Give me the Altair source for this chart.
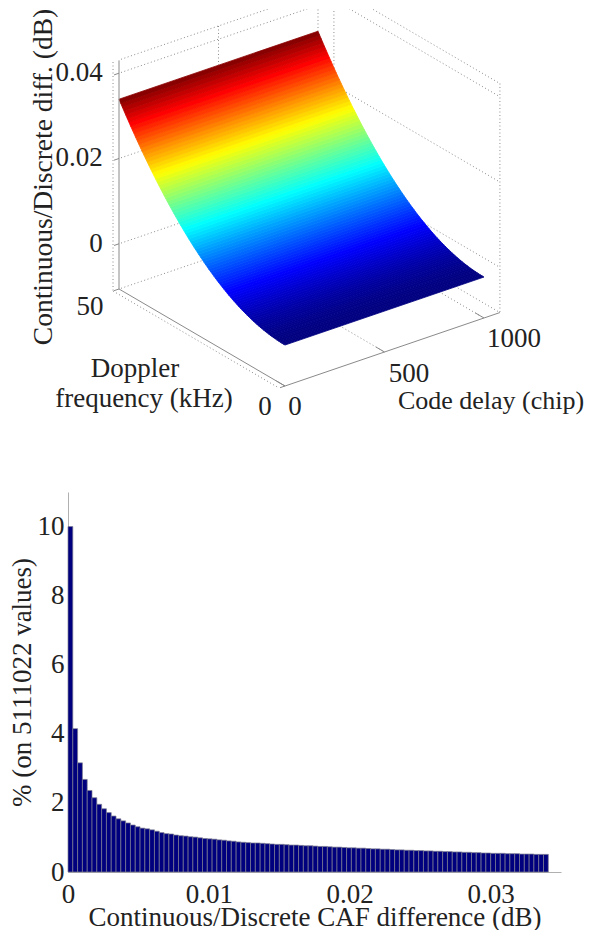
import altair as alt
import pandas as pd

# --- reference readings -------------------------------------------------
DOPPLER = [i / 2 for i in range(0, 101)]
DIFF = [-.001, -.001, -.00099, -.00097, -.00094, -.00091, -.00087, -.00083, -.00078, -.00072,
        -.00065, -.00058, -.0005, -.00041, -.00032, -.00021, -.00011, .00001, .00013, .00026,
        .0004, .00054, .00069, .00085, .00101, .00118, .00136, .00154, .00174, .00194,
        .00214, .00235, .00257, .0028, .00303, .00328, .00352, .00378, .00404, .00431,
        .00458, .00487, .00516, .00545, .00576, .00607, .00638, .00671, .00704, .00738,
        .00773, .00808, .00844, .0088, .00918, .00956, .00994, .01034, .01074, .01115,
        .01156, .01199, .01242, .01285, .01329, .01375, .0142, .01467, .01514, .01562,
        .0161, .01659, .01709, .0176, .01811, .01863, .01916, .01969, .02023, .02078,
        .02134, .0219, .02247, .02304, .02363, .02422, .02481, .02542, .02603, .02664,
        .02727, .0279, .02854, .02918, .02984, .0305, .03116, .03184, .03252, .0332, .0339]
DELAY_MAX = 1000
Z_TICKS = [0.04, 0.02, 0.0]
PERCENT = [10.0, 4.15, 3.16, 2.68, 2.36, 2.15, 1.96, 1.83, 1.72, 1.62,
           1.54, 1.48, 1.42, 1.36, 1.31, 1.27, 1.25, 1.22, 1.18, 1.14,
           1.11, 1.10, 1.07, 1.05, 1.04, 1.02, 1.01, 0.99, 0.97, 0.96,
           0.95, 0.93, 0.92, 0.90, 0.89, 0.87, 0.86, 0.85, 0.84, 0.84,
           0.83, 0.82, 0.81, 0.80, 0.80, 0.79, 0.78, 0.78, 0.77, 0.76,
           0.76, 0.75, 0.74, 0.74, 0.73, 0.72, 0.72, 0.71, 0.70, 0.70,
           0.69, 0.69, 0.68, 0.67, 0.67, 0.66, 0.66, 0.65, 0.64, 0.64,
           0.63, 0.63, 0.62, 0.62, 0.61, 0.61, 0.60, 0.60, 0.59, 0.59,
           0.58, 0.58, 0.57, 0.57, 0.56, 0.56, 0.55, 0.55, 0.54, 0.54,
           0.54, 0.53, 0.53, 0.53, 0.52, 0.52, 0.52, 0.51, 0.51, 0.51]
BIN_WIDTH = 0.000341
JET = ["#00007f", "#0000ff", "#00ffff", "#ffff00", "#ff0000", "#7f0000"]
SERIF = "Liberation Serif"
INK = "#222222"
AX = "#8a8a8a"
FS = 27

Z_FLOOR = -0.0106
Z_TOP = 0.0431
DELAY_LIM = 1080


def proj(delay, doppler, z):
    return (286 + 0.199 * delay - 3.32 * doppler,
            385 - 0.0680 * delay - 1.94 * doppler - (z - Z_FLOOR) * 4265)


X0, X1, Y0, Y1 = 69, 562, 8, 445
sx = alt.Scale(domain=[X0, X1], nice=False, zero=False)
sy = alt.Scale(domain=[Y1, Y0], nice=False, zero=False)
X = alt.X("sx:Q", scale=sx, axis=None)
Y = alt.Y("sy:Q", scale=sy, axis=None)


def segs(items):
    rows = []
    for i, (a, b) in enumerate(items):
        for p in (a, b):
            x, y = proj(*p)
            rows.append({"k": i, "sx": x, "sy": y})
    return pd.DataFrame(rows)


# dotted walls and floor
grid = []
for z in Z_TICKS:
    grid.append(((0, 50, z), (DELAY_LIM, 50, z)))
    grid.append(((DELAY_LIM, 50, z), (DELAY_LIM, 0, z)))
for d in (500, 1000):
    grid.append(((d, 50, Z_FLOOR), (d, 50, Z_TOP)))
    grid.append(((d, 0, Z_FLOOR), (d, 50, Z_FLOOR)))
grid += [((0, 50, Z_FLOOR), (DELAY_LIM, 50, Z_FLOOR)),
         ((DELAY_LIM, 50, Z_FLOOR), (DELAY_LIM, 0, Z_FLOOR)),
         ((DELAY_LIM, 0, Z_FLOOR), (DELAY_LIM, 0, Z_TOP)),
         ((DELAY_LIM, 50, Z_FLOOR), (DELAY_LIM, 50, Z_TOP)),
         ((0, 50, Z_TOP), (DELAY_LIM, 50, Z_TOP)),
         ((DELAY_LIM, 50, Z_TOP), (DELAY_LIM, 0, Z_TOP)),
         ((-30, 0, Z_FLOOR), (-30, 50, Z_FLOOR)),
         ((-30, 50, Z_FLOOR), (-30, 50, Z_TOP))]
grid_layer = alt.Chart(segs(grid)).mark_line(
    stroke="#8c8c8c", strokeWidth=1, strokeDash=[1, 2.5], clip=True
).encode(x=X, y=Y, detail="k:N", order="sy:Q")

# surface: one polygon per Doppler step, projected with an identity projection
features = []
for i in range(len(DOPPLER) - 1):
    corners = [proj(0, DOPPLER[i], DIFF[i]), proj(DELAY_MAX, DOPPLER[i], DIFF[i]),
               proj(DELAY_MAX, DOPPLER[i + 1], DIFF[i + 1]), proj(0, DOPPLER[i + 1], DIFF[i + 1])]
    ring = [list(c) for c in corners] + [list(corners[0])]
    features.append({"type": "Feature",
                     "properties": {"z": (DIFF[i] + DIFF[i + 1]) / 2},
                     "geometry": {"type": "Polygon", "coordinates": [ring]}})
zl, zm = DIFF[0], DIFF[-1]
zr = zm - zl
stops = [zl, zl + zr * .125, zl + zr * .375, zl + zr * .625, zl + zr * .875, zm]
surf_layer = alt.Chart(alt.Data(values=features)).mark_geoshape(strokeWidth=0.8).encode(
    color=alt.Color("properties.z:Q", legend=None,
                    scale=alt.Scale(domain=stops, range=JET, interpolate="rgb")),
    stroke=alt.Stroke("properties.z:Q", legend=None,
                      scale=alt.Scale(domain=stops, range=JET, interpolate="rgb")),
).project(type="identity", scale=1, translate=[-X0, -Y0])

# solid axes
ax_items = [((0, 50, Z_FLOOR), (0, 50, Z_TOP - 0.0001)),
            ((0, 0, Z_FLOOR), (0, 50, Z_FLOOR)),
            ((0, 0, Z_FLOOR), (DELAY_LIM, 0, Z_FLOOR))]
for z in Z_TICKS + [Z_FLOOR]:
    ax_items.append(((0, 50, z), (-25, 50, z)))
for d in (0, 500, 1000):
    ax_items.append(((d, 0, Z_FLOOR), (d, 2.6, Z_FLOOR)))
ax_items.append(((0, 0, Z_FLOOR), (-25, 0, Z_FLOOR)))
axis_layer = alt.Chart(segs(ax_items)).mark_line(stroke=AX, strokeWidth=1).encode(
    x=X, y=Y, detail="k:N", order="sy:Q")

# text of the 3-D panel
labels = pd.DataFrame([
    {"t": "0.04", "sx": 80, "sy": 72}, {"t": "0.02", "sx": 80, "sy": 157},
    {"t": "0", "sx": 97, "sy": 243}, {"t": "50", "sx": 91, "sy": 306},
    {"t": "Doppler", "sx": 136, "sy": 368}, {"t": "frequency (kHz)", "sx": 145, "sy": 398},
    {"t": "0", "sx": 266, "sy": 406}, {"t": "0", "sx": 296, "sy": 406},
    {"t": "500", "sx": 410, "sy": 373}, {"t": "1000", "sx": 515, "sy": 338},
])
text_layer = alt.Chart(labels).mark_text(
    font=SERIF, fontSize=FS, color=INK, align="center", baseline="middle"
).encode(x=X, y=Y, text="t:N")
code_title = alt.Chart(pd.DataFrame([{"t": "Code delay (chip)", "sx": 492, "sy": 400}])).mark_text(
    font=SERIF, fontSize=26, color=INK, align="center", baseline="middle"
).encode(x=X, y=Y, text="t:N")
ztitle = alt.Chart(pd.DataFrame([{"t": "Continuous/Discrete diff. (dB)", "sx": 45, "sy": 176}])).mark_text(
    font=SERIF, fontSize=27.5, color=INK, angle=270, align="center", baseline="middle"
).encode(x=X, y=Y, text="t:N")

top = alt.layer(grid_layer, surf_layer, axis_layer, text_layer, code_title, ztitle).resolve_scale(
    color="independent", stroke="independent").properties(width=X1 - X0, height=Y1 - Y0)

# histogram
hist = pd.DataFrame({"pct": PERCENT})
hist["a"] = [i * BIN_WIDTH for i in range(len(PERCENT))]
hist["b"] = hist["a"] + BIN_WIDTH
hist["base"] = 0.0
bars = alt.Chart(hist).mark_bar(fill="#00007f", stroke="#7d7d90", strokeWidth=0.7).encode(
    x=alt.X("a:Q", scale=alt.Scale(domain=[0, 0.035], nice=False, zero=False),
            axis=alt.Axis(values=[0, 0.01, 0.02, 0.03], format=".2~f", title="Continuous/Discrete CAF difference (dB)",
                          labelFont=SERIF, labelFontSize=FS, labelColor=INK, titleFont=SERIF, titleFontSize=FS,
                          titleFontWeight="normal", titleColor=INK, grid=False, ticks=False, domainColor="#b0b0b0",
                          labelPadding=9, titlePadding=-3, labelFlush=False)),
    x2="b:Q",
    y=alt.Y("pct:Q", scale=alt.Scale(domain=[0, 11], nice=False),
            axis=alt.Axis(values=[0, 2, 4, 6, 8, 10], title="% (on 5111022 values)",
                          labelFont=SERIF, labelFontSize=FS, labelColor=INK, titleFont=SERIF, titleFontSize=FS,
                          titleFontWeight="normal", titleColor=INK, grid=False, ticks=False, domainColor="#b0b0b0",
                          labelPadding=4, titlePadding=1)),
    y2="base:Q",
).properties(width=493, height=380)

chart = alt.vconcat(top, bars, spacing=46).configure_view(stroke=None).properties(
    padding={"left": 0, "top": 0, "right": 0, "bottom": 0},
    background="white")
chart.save("out.html", embed_options={"renderer": "svg", "actions": False})
